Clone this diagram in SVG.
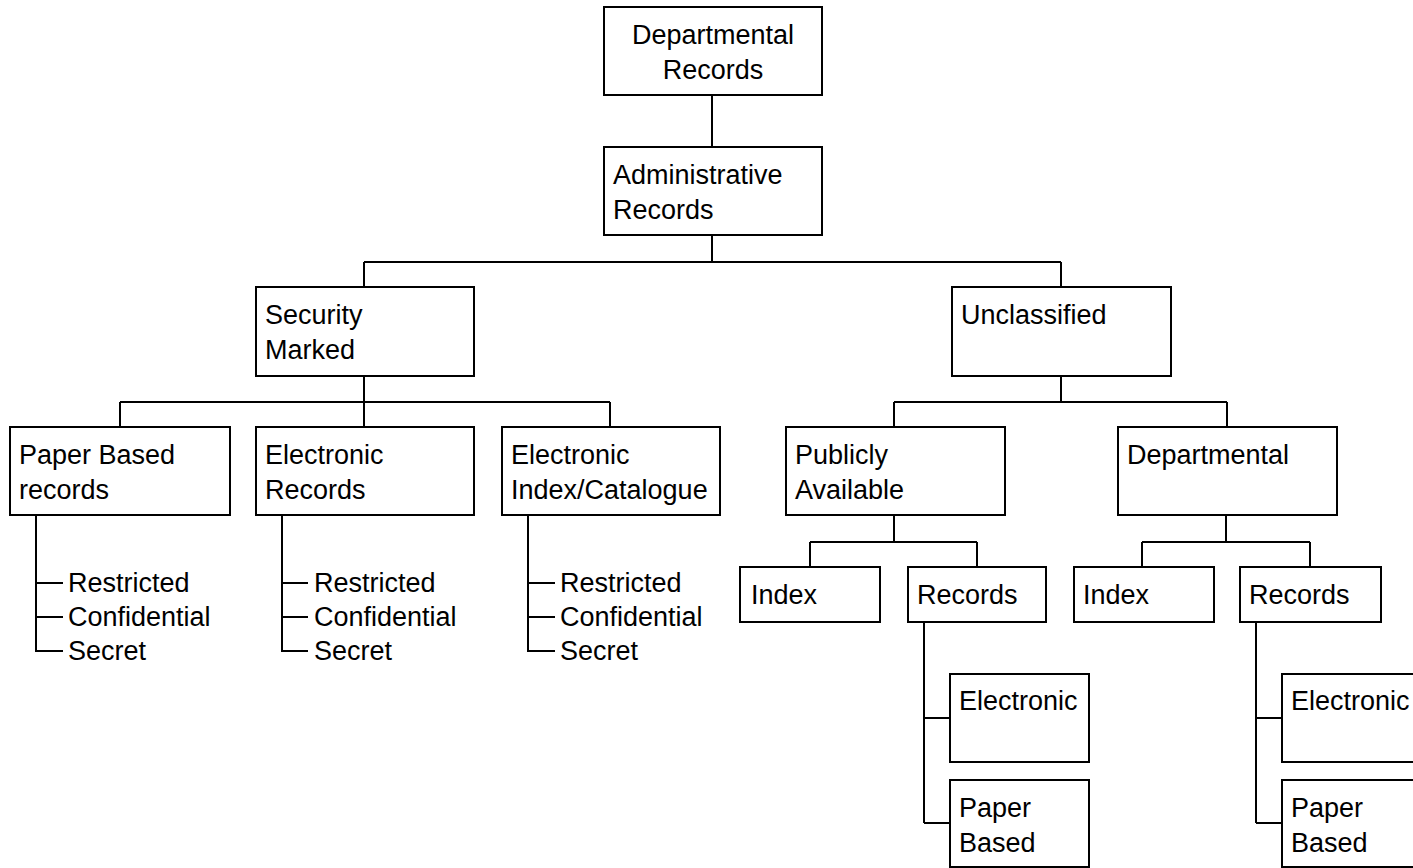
<svg xmlns="http://www.w3.org/2000/svg" width="1413" height="868" viewBox="0 0 1413 868">
  <style>
    .box { fill: #ffffff; stroke: #000000; stroke-width: 2; }
    .wire { fill: none; stroke: #000000; stroke-width: 2; }
    text { font-family: "Liberation Sans", Arial, sans-serif; font-size: 27px; fill: #000000; }
    .mid { text-anchor: middle; }
  </style>
  <rect width="1413" height="868" fill="#ffffff"/>

  <!-- connectors -->
  <g id="connectors" class="wire">
    <path d="M712 95 V147"/>
    <path d="M712 235 V262 M364 262 H1061 M364 262 V287 M1061 262 V287"/>
    <path d="M364 376 V402 M120 402 H610 M120 402 V427 M364 402 V427 M610 402 V427"/>
    <path d="M1061 376 V402 M894 402 H1227 M894 402 V427 M1227 402 V427"/>
    <path d="M894 515 V542 M810 542 H977 M810 542 V567 M977 542 V567"/>
    <path d="M1226 515 V542 M1142 542 H1310 M1142 542 V567 M1310 542 V567"/>
    <path d="M924 622 V823 M924 718 H950 M924 823 H950"/>
    <path d="M1256 622 V823 M1256 718 H1282 M1256 823 H1282"/>
    <path d="M36 515 V651 H63 M36 583 H63 M36 617 H63"/>
    <path d="M282 515 V651 H308 M282 583 H308 M282 617 H308"/>
    <path d="M528 515 V651 H555 M528 583 H555 M528 617 H555"/>
  </g>

  <g id="departmental-records">
    <rect class="box" x="604" y="7" width="218" height="88"/>
    <text class="mid" x="713" y="44">Departmental</text>
    <text class="mid" x="713" y="78.5">Records</text>
  </g>

  <g id="administrative-records">
    <rect class="box" x="604" y="147" width="218" height="88"/>
    <text x="613" y="184">Administrative</text>
    <text x="613" y="218.5">Records</text>
  </g>

  <g id="security-marked">
    <rect class="box" x="256" y="287" width="218" height="89"/>
    <text x="265" y="324">Security</text>
    <text x="265" y="358.5">Marked</text>
  </g>

  <g id="unclassified">
    <rect class="box" x="952" y="287" width="219" height="89"/>
    <text x="961" y="324">Unclassified</text>
  </g>

  <g id="paper-based-records">
    <rect class="box" x="10" y="427" width="220" height="88"/>
    <text x="19" y="464">Paper Based</text>
    <text x="19" y="498.5">records</text>
    <text x="68" y="592">Restricted</text>
    <text x="68" y="626">Confidential</text>
    <text x="68" y="660">Secret</text>
  </g>

  <g id="electronic-records">
    <rect class="box" x="256" y="427" width="218" height="88"/>
    <text x="265" y="464">Electronic</text>
    <text x="265" y="498.5">Records</text>
    <text x="314" y="592">Restricted</text>
    <text x="314" y="626">Confidential</text>
    <text x="314" y="660">Secret</text>
  </g>

  <g id="electronic-index-catalogue">
    <rect class="box" x="502" y="427" width="218" height="88"/>
    <text x="511" y="464">Electronic</text>
    <text x="511" y="498.5">Index/Catalogue</text>
    <text x="560" y="592">Restricted</text>
    <text x="560" y="626">Confidential</text>
    <text x="560" y="660">Secret</text>
  </g>

  <g id="publicly-available">
    <rect class="box" x="786" y="427" width="219" height="88"/>
    <text x="795" y="464">Publicly</text>
    <text x="795" y="498.5">Available</text>
  </g>

  <g id="departmental">
    <rect class="box" x="1118" y="427" width="219" height="88"/>
    <text x="1127" y="464">Departmental</text>
  </g>

  <g id="public-index">
    <rect class="box" x="740" y="567" width="140" height="55"/>
    <text x="751" y="604">Index</text>
  </g>

  <g id="public-records">
    <rect class="box" x="908" y="567" width="138" height="55"/>
    <text x="917" y="604">Records</text>
  </g>

  <g id="departmental-index">
    <rect class="box" x="1074" y="567" width="140" height="55"/>
    <text x="1083" y="604">Index</text>
  </g>

  <g id="departmental-records-sub">
    <rect class="box" x="1240" y="567" width="141" height="55"/>
    <text x="1249" y="604">Records</text>
  </g>

  <g id="public-electronic">
    <rect class="box" x="950" y="674" width="139" height="88"/>
    <text x="959" y="710">Electronic</text>
  </g>

  <g id="public-paper-based">
    <rect class="box" x="950" y="780" width="139" height="87"/>
    <text x="959" y="817">Paper</text>
    <text x="959" y="851.5">Based</text>
  </g>

  <g id="departmental-electronic">
    <rect class="box" x="1282" y="674" width="140" height="88"/>
    <text x="1291" y="710">Electronic</text>
  </g>

  <g id="departmental-paper-based">
    <rect class="box" x="1282" y="780" width="140" height="87"/>
    <text x="1291" y="817">Paper</text>
    <text x="1291" y="851.5">Based</text>
  </g>
</svg>
